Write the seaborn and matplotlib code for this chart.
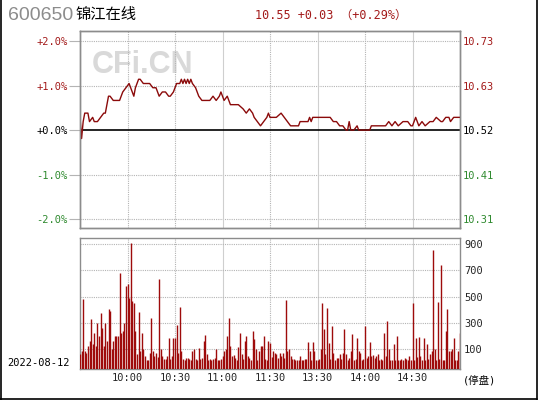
import matplotlib
matplotlib.use("Agg")
import matplotlib.pyplot as plt
import seaborn as sns
from matplotlib.lines import Line2D

# header info
code = "600650"
name = "锦江在线"
prev_close = 10.52
quote_text = "10.55 +0.03 （+0.29%）"
date_label = "2022-08-12"
halt_label = "(停盘)"
watermark = "CFi.CN"

# axis labels
pct_levels = [2, 1, 0, -1, -2]
pct_labels = ["+2.0%", "+1.0%", "+0.0%", "-1.0%", "-2.0%"]
price_labels = ["10.73", "10.63", "10.52", "10.41", "10.31"]
vol_ticks = [100, 300, 500, 700, 900]
time_ticks = [30, 60, 90, 120, 150, 180, 210]
time_labels = ["10:00", "10:30", "11:00", "11:30", "13:30", "14:00", "14:30"]

# intraday price (trading minute, price)
price_minute = [0, 1, 2, 3, 5, 6, 8, 9, 11, 13, 15, 16, 18, 19, 21, 23, 25, 27, 29, 31,
                33, 34, 35, 37, 38, 40, 42, 44, 46, 48, 50, 52, 54, 56, 57, 59, 60, 61, 63, 64,
                65, 66, 67, 68, 69, 70, 71, 73, 75, 77, 80, 82, 84, 86, 88, 89, 91, 93, 95, 97,
                100, 103, 105, 107, 109, 110, 112, 114, 116, 118, 119, 120, 122, 124, 127, 129, 131, 133, 136, 138,
                139, 142, 144, 145, 146, 147, 150, 155, 158, 160, 162, 164, 166, 168, 169, 170, 171, 173, 175, 176,
                180, 183, 184, 190, 193, 195, 197, 199, 201, 204, 207, 209, 210, 212, 213, 214, 216, 218, 221, 223,
                225, 228, 229, 231, 233, 234, 236, 238, 240]
price_value = [10.55, 10.50, 10.54, 10.56, 10.56, 10.54, 10.55, 10.54, 10.54, 10.55, 10.56, 10.56, 10.60, 10.60, 10.59, 10.59, 10.59, 10.61, 10.62, 10.63,
               10.61, 10.60, 10.62, 10.64, 10.64, 10.63, 10.63, 10.63, 10.62, 10.62, 10.60, 10.61, 10.61, 10.60, 10.60, 10.61, 10.62, 10.63, 10.63, 10.64,
               10.63, 10.64, 10.63, 10.64, 10.63, 10.64, 10.63, 10.62, 10.60, 10.59, 10.59, 10.59, 10.60, 10.59, 10.60, 10.61, 10.59, 10.60, 10.58, 10.58,
               10.58, 10.57, 10.56, 10.57, 10.56, 10.55, 10.54, 10.53, 10.54, 10.55, 10.56, 10.55, 10.55, 10.55, 10.56, 10.55, 10.54, 10.53, 10.53, 10.53,
               10.54, 10.54, 10.54, 10.55, 10.54, 10.55, 10.55, 10.55, 10.55, 10.54, 10.54, 10.53, 10.53, 10.52, 10.52, 10.54, 10.52, 10.52, 10.53, 10.52,
               10.52, 10.52, 10.53, 10.53, 10.53, 10.54, 10.53, 10.54, 10.53, 10.54, 10.54, 10.53, 10.53, 10.55, 10.54, 10.53, 10.54, 10.53, 10.54, 10.54,
               10.55, 10.54, 10.54, 10.55, 10.55, 10.54, 10.55, 10.55, 10.55]

# per-minute volume (9:30-10:29, 10:30-11:30, 13:01-14:00, 14:01-15:00)
vol_am1 = [60, 85, 483, 85, 72, 123, 161, 326, 136, 224, 123, 300, 199, 372, 263, 123, 296, 161, 407, 390,
           97, 161, 199, 199, 199, 677, 224, 237, 300, 580, 593, 491, 905, 466, 453, 237, 59, 382, 85, 224,
           97, 47, 20, 20, 72, 339, 85, 47, 72, 40, 636, 97, 47, 21, 26, 47, 186, 21, 47, 186]
vol_am2 = [186, 280, 72, 423, 85, 25, 20, 30, 35, 25, 20, 85, 97, 25, 20, 110, 21, 34, 161, 204,
           59, 20, 25, 20, 21, 35, 97, 20, 20, 21, 47, 85, 97, 199, 339, 123, 47, 52, 34, 20,
           115, 224, 59, 21, 161, 199, 47, 35, 20, 237, 174, 97, 20, 85, 123, 123, 199, 21, 20, 161,
           148]
vol_pm1 = [40, 85, 72, 59, 34, 72, 47, 72, 34, 473, 85, 97, 47, 21, 25, 20, 20, 20, 47, 20,
           20, 21, 21, 153, 85, 20, 153, 85, 20, 20, 21, 97, 453, 250, 59, 415, 148, 21, 275, 72,
           20, 34, 30, 59, 21, 72, 255, 59, 20, 34, 85, 212, 20, 21, 186, 85, 72, 20, 21, 275]
vol_pm2 = [30, 47, 153, 47, 52, 34, 47, 59, 20, 21, 20, 224, 47, 313, 97, 20, 20, 136, 20, 199,
           20, 20, 21, 20, 30, 21, 20, 47, 20, 453, 20, 186, 40, 193, 47, 20, 186, 20, 136, 21,
           59, 85, 854, 97, 20, 458, 21, 737, 20, 20, 237, 402, 85, 85, 97, 186, 20, 20, 85, 224]

W, H = 540, 400
LINE_RED = "#8b0a0a"
BAR_RED = "#9e0b0b"
UP_RED = "#a31a1a"
DOWN_GREEN = "#2f8a2f"
GRID = "#b4b4b4"
SPINE = "#8c8c8c"
VOL_FLOOR = -52


def box(l, t, r, b):
    return [l / W, 1 - b / H, (r - l) / W, (b - t) / H]


def label_color(p):
    if p > 0:
        return UP_RED
    if p < 0:
        return DOWN_GREEN
    return "black"


sns.set_style("white")
plt.rcParams["font.family"] = ["DejaVu Sans Mono", "Noto Sans CJK SC"]
plt.rcParams["font.size"] = 7.5

fig = plt.figure(figsize=(W / 100, H / 100), dpi=100)
ax = fig.add_axes(box(80, 31, 460, 228))
axv = fig.add_axes(box(80, 238, 460, 369))

# ---- price panel
levels = [prev_close * (1 + p / 100) for p in pct_levels]
for lv, p in zip(levels, pct_levels):
    if p == 0:
        ax.axhline(lv, color="black", lw=1.2, zorder=2)
    else:
        ax.axhline(lv, color=GRID, lw=0.8, ls=(0, (1, 1)), zorder=1)
for m in time_ticks:
    solid = m in (90, 150, 210)
    for a in (ax, axv):
        a.axvline(m, color="#cfcfcf" if solid else GRID, lw=0.8,
                  ls="-" if solid else (0, (1, 1)), zorder=1)

ax.text((92 - 80) / 380, (228 - 65) / 197, watermark, transform=ax.transAxes,
        family="Liberation Sans", fontweight="bold", fontsize=22, color="#d9d9d9",
        ha="left", va="center", zorder=0)

sns.lineplot(x=price_minute, y=price_value, ax=ax, color=LINE_RED, linewidth=1.0, zorder=3)
ax.set_xlim(0, 240)
ax.set_ylim(prev_close * (1 - 2.2 / 100), prev_close * (1 + 2.225 / 100))
ax.set_xticks([])
ax.set_yticks(levels, pct_labels)
ax.set_xlabel("")
ax.set_ylabel("")
ax.tick_params(axis="y", length=8, width=0.8, color=GRID, pad=1)
for lab, p in zip(ax.get_yticklabels(), pct_levels):
    lab.set_color(label_color(p))

ax2 = ax.twinx()
ax2.set_ylim(ax.get_ylim())
ax2.set_yticks(levels, price_labels)
ax2.tick_params(axis="y", length=0, pad=2)
for lab, p in zip(ax2.get_yticklabels(), pct_levels):
    lab.set_color(label_color(p))

# ---- volume panel
volume = vol_am1 + vol_am2 + vol_pm1 + vol_pm2
axv.vlines(range(len(volume)), VOL_FLOOR, volume, color=BAR_RED, lw=1.0, zorder=3)
for v in vol_ticks:
    axv.axhline(v, color=GRID, lw=0.8, ls=(0, (1, 1)), zorder=1)
axv.set_xlim(0, 240)
axv.set_ylim(VOL_FLOOR, 946)
axv.yaxis.tick_right()
axv.set_yticks(vol_ticks)
axv.set_xticks(time_ticks, time_labels)
axv.tick_params(length=0, pad=3)

for a in (ax, ax2, axv):
    for s in a.spines.values():
        s.set_color(SPINE)
        s.set_linewidth(1.0)

# ---- header and side texts
fig.text(8 / W, 1 - 15 / H, code, family="Liberation Sans", fontsize=14,
         color="#8c8c8c", va="center", ha="left")
fig.text(76 / W, 1 - 15 / H, name, family="Noto Sans CJK SC", fontsize=11,
         color="black", va="center", ha="left")
fig.text(255 / W, 1 - 15 / H, quote_text, fontsize=8.5, color=UP_RED,
         va="center", ha="left")
fig.text(7 / W, 1 - 363 / H, date_label, fontsize=7.5, color="black",
         va="center", ha="left")
fig.text(463 / W, 1 - 381 / H, halt_label, fontsize=7.5, color="black",
         va="center", ha="left")

# outer frame
for xs, ys in [([1 / W, 1 / W], [0, 1]), ([537 / W, 537 / W], [0, 1]),
               ([0, 537 / W], [1.5 / H, 1.5 / H])]:
    fig.add_artist(Line2D(xs, ys, color="black", lw=1.2))

fig.savefig("out.png", dpi=100, facecolor="white")
